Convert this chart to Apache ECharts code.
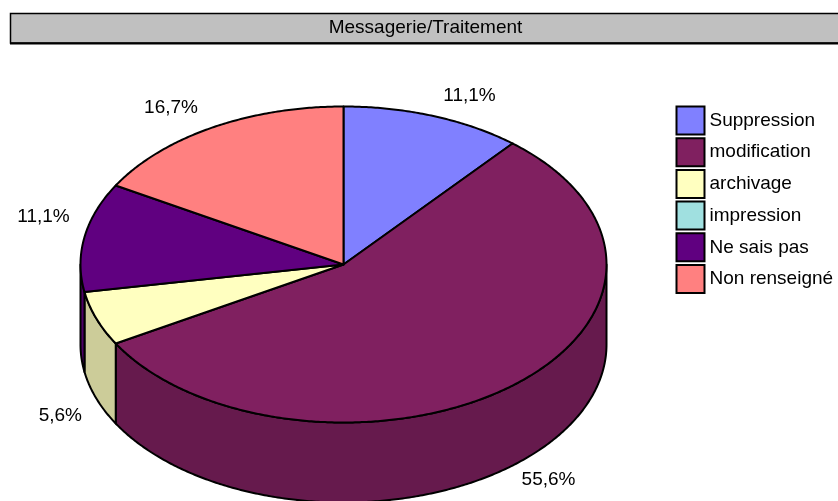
<!DOCTYPE html>
<html>
<head>
<meta charset="utf-8">
<style>html,body{margin:0;padding:0;background:#fff}#c{width:838px;height:501px}</style>
<script src="https://cdn.jsdelivr.net/npm/echarts@6/dist/echarts.min.js"></script>
</head>
<body>
<div id="c"></div>
<script>
const titleText = 'Messagerie/Traitement';
const categories = ['Suppression', 'modification', 'archivage', 'impression', 'Ne sais pas', 'Non renseigné'];
const counts = [2, 10, 1, 0, 2, 3];
const topColors = ['#8080ff', '#802060', '#ffffc0', '#a0e0e0', '#600080', '#ff8080'];
const wallColors = ['#6666cc', '#661a4d', '#cccc99', '#80b3b3', '#4d0066', '#cc6666'];

const FONT = '"Liberation Sans", Arial, sans-serif';
const FONT_SIZE = 19;
const CX = 343.5, CY = 264.5, RX = 263, RY = 158, DEPTH = 80;
const total = counts.reduce((a, b) => a + b, 0);
const starts = [];
counts.reduce((acc, v, i) => { starts[i] = acc; return acc + v; }, 0);

function pt(deg, dy) {
  const r = deg * Math.PI / 180;
  return [CX + RX * Math.sin(r), CY - RY * Math.cos(r) + (dy || 0)];
}
function arc(a, b, dy) {
  const out = [];
  const n = Math.max(1, Math.ceil((b - a) * 2));
  for (let k = 0; k <= n; k++) out.push(pt(a + (b - a) * k / n, dy));
  return out;
}
function pctLabel(v) {
  return (v / total * 100).toFixed(1).replace('.', ',') + '%';
}
function renderSlice(index) {
  return function () {
    const value = counts[index];
    if (!value) return { type: 'group', children: [] };
    const a = starts[index] / total * 360;
    const b = a + value / total * 360;
    const stroke = { stroke: '#000', lineWidth: 2, lineJoin: 'round' };
    const children = [];
    const wa = Math.max(a, 90), wb = Math.min(b, 270);
    if (wb > wa) {
      children.push({
        type: 'polygon', z2: 1 + index,
        shape: { points: arc(wa, wb, 0).concat(arc(wa, wb, DEPTH).reverse()) },
        style: Object.assign({ fill: wallColors[index] }, stroke)
      });
    }
    children.push({
      type: 'polygon', z2: 20 + index,
      shape: { points: [[CX, CY]].concat(arc(a, b, 0)) },
      style: Object.assign({ fill: topColors[index] }, stroke)
    });
    const mid = (a + b) / 2;
    const lower = Math.cos(mid * Math.PI / 180) < 0;
    const right = mid < 180;
    const anchor = pt(mid, lower ? DEPTH + (right ? 14 : 17) : -20);
    children.push({
      type: 'text', z2: 40,
      x: anchor[0] + (right ? 36 : (lower ? -36 : -41)), y: anchor[1],
      style: { text: pctLabel(value), fill: '#000', font: FONT_SIZE + 'px ' + FONT, align: 'center', verticalAlign: 'middle' }
    });
    return { type: 'group', children };
  };
}

const chart = echarts.init(document.getElementById('c'), null, { renderer: 'canvas' });
chart.setOption({
  animation: false,
  backgroundColor: '#fff',
  legend: {
    orient: 'vertical', left: 675.5, top: 105.5,
    itemWidth: 28, itemHeight: 28, itemGap: 1.7, padding: 0,
    icon: 'rect',
    data: categories,
    textStyle: { color: '#000', fontFamily: FONT, fontSize: FONT_SIZE, padding: [0, 0, 6, 0] },
    itemStyle: { borderColor: '#000', borderWidth: 2 },
    selectedMode: false
  },
  graphic: [{
    type: 'rect', z: 0,
    shape: { x: 10.5, y: 13.5, width: 840, height: 29.5 },
    style: { fill: '#c0c0c0', stroke: '#000', lineWidth: 1.5 }
  }, {
    type: 'line', z: 0,
    shape: { x1: 10, y1: 43.5, x2: 838, y2: 43.5 },
    style: { stroke: '#000', lineWidth: 2 }
  }, {
    type: 'text', z: 1, x: 425.5, y: 28,
    style: { text: titleText, fill: '#000', font: FONT_SIZE + 'px ' + FONT, align: 'center', verticalAlign: 'middle' }
  }],
  series: categories.map((name, i) => ({
    type: 'custom', name, coordinateSystem: 'none',
    itemStyle: { color: topColors[i] },
    renderItem: renderSlice(i),
    data: [counts[i]],
    silent: true
  }))
});
</script>
</body>
</html>
